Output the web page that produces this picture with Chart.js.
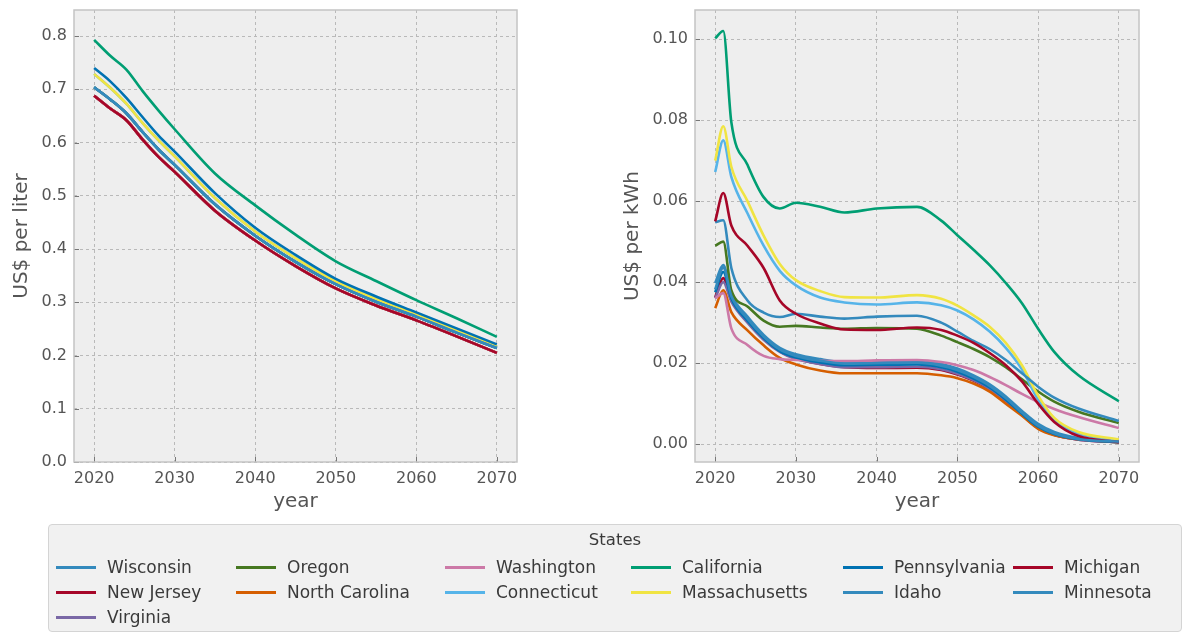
<!DOCTYPE html>
<html>
<head>
<meta charset="utf-8">
<script src="https://cdn.jsdelivr.net/npm/chart.js@4.4.1/dist/chart.umd.min.js"></script>
<style>
  body { margin: 0; background: #ffffff; width: 1185px; height: 641px; overflow: hidden; font-family: "DejaVu Sans", sans-serif; }
  #fuelChart { position: absolute; left: 0; top: 0; }
  #powerChart { position: absolute; left: 600px; top: 0; }
  #legend { position: absolute; left: 48px; top: 524px; width: 1134px; height: 108px; box-sizing: border-box;
            border: 1px solid #d4d4d4; border-radius: 4px; background: #f1f1f1; color: #3a3a3a; }
  #legend .title { position: absolute; left: 0; right: 0; top: 5px; text-align: center; font-size: 16.5px; }
  #legend .item { position: absolute; height: 24px; display: flex; align-items: center; font-size: 17px; white-space: nowrap; }
  #legend .swatch { width: 40px; height: 3px; margin-right: 11px; }
</style>
</head>
<body>
<canvas id="fuelChart" width="540" height="525"></canvas>
<canvas id="powerChart" width="585" height="525"></canvas>
<div id="legend"><div class="title">States</div></div>
<script>
// ---- states and line colours ----
const states = ['Wisconsin', 'New Jersey', 'Virginia', 'Oregon', 'North Carolina', 'Washington',
  'Connecticut', 'California', 'Massachusetts', 'Pennsylvania', 'Idaho', 'Michigan', 'Minnesota'];
const colors = ['#348ABD', '#A60628', '#7A68A6', '#467821', '#D55E00', '#CC79A7',
  '#56B4E9', '#009E73', '#F0E442', '#0072B2', '#348ABD', '#A60628', '#348ABD'];

// ---- fuel cost, US$ per liter ----
const fuelYears = [2020, 2022, 2024, 2026, 2028, 2030, 2035, 2040, 2045, 2050, 2055, 2060, 2065, 2070];
const fuelWisconsin      = [0.704, 0.681, 0.655, 0.620, 0.587, 0.558, 0.484, 0.425, 0.376, 0.334, 0.301, 0.273, 0.243, 0.214];
const fuelNewJersey      = [0.688, 0.664, 0.642, 0.606, 0.573, 0.545, 0.472, 0.416, 0.368, 0.326, 0.294, 0.266, 0.236, 0.205];
const fuelVirginia       = [0.688, 0.664, 0.642, 0.606, 0.573, 0.545, 0.472, 0.416, 0.368, 0.326, 0.294, 0.266, 0.236, 0.205];
const fuelOregon         = [0.704, 0.681, 0.655, 0.620, 0.587, 0.558, 0.484, 0.425, 0.376, 0.334, 0.301, 0.273, 0.243, 0.214];
const fuelNorthCarolina  = [0.688, 0.664, 0.642, 0.606, 0.573, 0.545, 0.472, 0.416, 0.368, 0.326, 0.294, 0.266, 0.236, 0.205];
const fuelWashington     = [0.688, 0.664, 0.642, 0.606, 0.573, 0.545, 0.472, 0.416, 0.368, 0.326, 0.294, 0.266, 0.236, 0.205];
const fuelConnecticut    = [0.729, 0.703, 0.673, 0.637, 0.604, 0.574, 0.496, 0.433, 0.383, 0.339, 0.306, 0.277, 0.247, 0.217];
const fuelCalifornia     = [0.793, 0.763, 0.737, 0.697, 0.660, 0.625, 0.542, 0.482, 0.427, 0.377, 0.340, 0.304, 0.270, 0.235];
const fuelMassachusetts  = [0.729, 0.703, 0.673, 0.637, 0.604, 0.574, 0.496, 0.433, 0.383, 0.339, 0.306, 0.277, 0.247, 0.217];
const fuelPennsylvania   = [0.740, 0.715, 0.684, 0.648, 0.613, 0.583, 0.505, 0.440, 0.389, 0.344, 0.311, 0.281, 0.251, 0.221];
const fuelIdaho          = [0.704, 0.681, 0.655, 0.620, 0.587, 0.558, 0.484, 0.425, 0.376, 0.334, 0.301, 0.273, 0.243, 0.214];
const fuelMichigan       = [0.688, 0.664, 0.642, 0.606, 0.573, 0.545, 0.472, 0.416, 0.368, 0.326, 0.294, 0.266, 0.236, 0.205];
const fuelMinnesota      = [0.704, 0.681, 0.655, 0.620, 0.587, 0.558, 0.484, 0.425, 0.376, 0.334, 0.301, 0.273, 0.243, 0.214];

// ---- electricity cost, US$ per kWh ----
const powerYears = [2020, 2021, 2022, 2024, 2026, 2028, 2030, 2033, 2036, 2040, 2045, 2048, 2050, 2052, 2054, 2056, 2058, 2060, 2062, 2065, 2070];
const powerWisconsin     = [0.0398, 0.0442, 0.0370, 0.0315, 0.0270, 0.0238, 0.0222, 0.0210, 0.0203, 0.0204, 0.0205, 0.0198, 0.0187, 0.0170, 0.0148, 0.0118, 0.0082, 0.0050, 0.0030, 0.0015, 0.0007];
const powerNewJersey     = [0.0363, 0.0410, 0.0356, 0.0305, 0.0262, 0.0230, 0.0212, 0.0198, 0.0190, 0.0188, 0.0189, 0.0183, 0.0172, 0.0157, 0.0135, 0.0106, 0.0072, 0.0040, 0.0023, 0.0011, 0.0005];
const powerVirginia      = [0.0360, 0.0400, 0.0352, 0.0300, 0.0258, 0.0228, 0.0210, 0.0198, 0.0190, 0.0190, 0.0191, 0.0185, 0.0174, 0.0158, 0.0136, 0.0107, 0.0073, 0.0040, 0.0023, 0.0011, 0.0005];
const powerOregon        = [0.0490, 0.0500, 0.0380, 0.0340, 0.0305, 0.0290, 0.0292, 0.0288, 0.0285, 0.0287, 0.0285, 0.0268, 0.0252, 0.0235, 0.0215, 0.0190, 0.0160, 0.0130, 0.0105, 0.0080, 0.0052];
const powerNorthCarolina = [0.0336, 0.0380, 0.0326, 0.0281, 0.0244, 0.0213, 0.0197, 0.0182, 0.0175, 0.0175, 0.0175, 0.0170, 0.0163, 0.0150, 0.0130, 0.0100, 0.0070, 0.0038, 0.0022, 0.0012, 0.0005];
const powerWashington    = [0.0360, 0.0373, 0.0286, 0.0245, 0.0218, 0.0210, 0.0208, 0.0206, 0.0205, 0.0207, 0.0208, 0.0203, 0.0195, 0.0183, 0.0166, 0.0146, 0.0124, 0.0104, 0.0087, 0.0067, 0.0040];
const powerConnecticut   = [0.0672, 0.0750, 0.0660, 0.0570, 0.0490, 0.0428, 0.0392, 0.0362, 0.0350, 0.0345, 0.0350, 0.0343, 0.0330, 0.0308, 0.0278, 0.0238, 0.0185, 0.0110, 0.0058, 0.0026, 0.0010];
const powerCalifornia    = [0.1002, 0.1020, 0.0795, 0.0690, 0.0610, 0.0582, 0.0596, 0.0586, 0.0572, 0.0582, 0.0586, 0.0552, 0.0516, 0.0480, 0.0442, 0.0398, 0.0348, 0.0285, 0.0228, 0.0170, 0.0106];
const powerMassachusetts = [0.0700, 0.0785, 0.0685, 0.0600, 0.0515, 0.0445, 0.0405, 0.0378, 0.0363, 0.0362, 0.0368, 0.0359, 0.0342, 0.0318, 0.0290, 0.0250, 0.0195, 0.0120, 0.0065, 0.0030, 0.0012];
const powerPennsylvania  = [0.0375, 0.0425, 0.0360, 0.0305, 0.0262, 0.0230, 0.0214, 0.0202, 0.0195, 0.0196, 0.0197, 0.0190, 0.0179, 0.0162, 0.0140, 0.0110, 0.0075, 0.0043, 0.0025, 0.0012, 0.0005];
const powerIdaho         = [0.0548, 0.0553, 0.0435, 0.0355, 0.0325, 0.0314, 0.0322, 0.0315, 0.0310, 0.0315, 0.0317, 0.0300, 0.0278, 0.0255, 0.0235, 0.0208, 0.0175, 0.0142, 0.0115, 0.0088, 0.0057];
const powerMichigan      = [0.0550, 0.0620, 0.0540, 0.0490, 0.0435, 0.0355, 0.0322, 0.0298, 0.0283, 0.0282, 0.0288, 0.0282, 0.0268, 0.0250, 0.0225, 0.0195, 0.0155, 0.0100, 0.0055, 0.0020, 0.0005];
const powerMinnesota     = [0.0382, 0.0436, 0.0366, 0.0310, 0.0266, 0.0234, 0.0218, 0.0206, 0.0199, 0.0200, 0.0201, 0.0194, 0.0183, 0.0166, 0.0144, 0.0114, 0.0078, 0.0046, 0.0027, 0.0013, 0.0006];

// ---- tick labels ----
const yearTicks = [2020, 2030, 2040, 2050, 2060, 2070];
const fuelTicks = [0.0, 0.1, 0.2, 0.3, 0.4, 0.5, 0.6, 0.7, 0.8];
const powerTicks = [0.00, 0.02, 0.04, 0.06, 0.08, 0.10];

const fuelSeries = [fuelWisconsin, fuelNewJersey, fuelVirginia, fuelOregon, fuelNorthCarolina, fuelWashington,
  fuelConnecticut, fuelCalifornia, fuelMassachusetts, fuelPennsylvania, fuelIdaho, fuelMichigan, fuelMinnesota];
const powerSeries = [powerWisconsin, powerNewJersey, powerVirginia, powerOregon, powerNorthCarolina, powerWashington,
  powerConnecticut, powerCalifornia, powerMassachusetts, powerPennsylvania, powerIdaho, powerMichigan, powerMinnesota];

const FONT = '"DejaVu Sans", sans-serif';
const TEXT = '#555555';

// axes background, frame and inward tick marks
const framePlugin = {
  id: 'frame',
  beforeDraw(chart) {
    const a = chart.chartArea, ctx = chart.ctx;
    ctx.save();
    ctx.fillStyle = '#eeeeee';
    ctx.fillRect(a.left, a.top, a.right - a.left, a.bottom - a.top);
    ctx.restore();
  },
  afterDraw(chart) {
    const a = chart.chartArea, ctx = chart.ctx;
    ctx.save();
    ctx.strokeStyle = '#777777';
    ctx.lineWidth = 1;
    ctx.beginPath();
    chart.scales.x.ticks.forEach(t => {
      const px = Math.round(chart.scales.x.getPixelForValue(t.value)) + 0.5;
      ctx.moveTo(px, a.bottom); ctx.lineTo(px, a.bottom - 5);
    });
    chart.scales.y.ticks.forEach(t => {
      const py = Math.round(chart.scales.y.getPixelForValue(t.value)) + 0.5;
      ctx.moveTo(a.left, py); ctx.lineTo(a.left + 5, py);
    });
    ctx.stroke();
    ctx.strokeStyle = '#c4c4c4';
    ctx.lineWidth = 1.5;
    ctx.strokeRect(a.left, a.top, a.right - a.left, a.bottom - a.top);
    ctx.restore();
  }
};

function buildChart(id, xs, series, yCfg) {
  const n = states.length;
  return new Chart(document.getElementById(id), {
    type: 'line',
    data: {
      datasets: states.map((s, i) => ({
        label: s,
        data: xs.map((x, j) => ({ x: x, y: series[i][j] })),
        borderColor: colors[i],
        backgroundColor: colors[i],
        borderWidth: 2.6,
        pointRadius: 0,
        fill: false,
        cubicInterpolationMode: 'monotone',
        order: n - i
      }))
    },
    options: {
      responsive: false,
      animation: false,
      devicePixelRatio: 1,
      layout: { padding: { top: 10, right: yCfg.padRight, left: 0, bottom: 0 } },
      plugins: { legend: { display: false }, tooltip: { enabled: false } },
      scales: {
        x: {
          type: 'linear', min: 2017.5, max: 2072.5,
          afterBuildTicks: s => { s.ticks = yearTicks.map(v => ({ value: v })); },
          afterFit: s => { s.height = 63; s.paddingLeft = 0; s.paddingRight = 0; },
          grid: { color: '#b9b9b9', lineWidth: 1, drawTicks: false },
          border: { display: false, dash: [3, 3] },
          ticks: { autoSkip: false, maxRotation: 0, padding: 7, color: TEXT, font: { family: FONT, size: 16 },
                   callback: v => String(v) },
          title: { display: true, text: 'year', color: TEXT, font: { family: FONT, size: 20 }, padding: { top: 0, bottom: 11 } }
        },
        y: {
          type: 'linear', min: yCfg.min, max: yCfg.max,
          afterBuildTicks: s => { s.ticks = yCfg.ticks.map(v => ({ value: v })); },
          afterFit: s => { s.width = yCfg.width; s.paddingTop = 0; s.paddingBottom = 0; },
          grid: { color: '#b9b9b9', lineWidth: 1, drawTicks: false },
          border: { display: false, dash: [3, 3] },
          ticks: { autoSkip: false, padding: 7, color: TEXT, font: { family: FONT, size: 16 },
                   callback: v => Number(v).toFixed(yCfg.digits) },
          title: { display: true, text: yCfg.title, color: TEXT, font: { family: FONT, size: 20 }, padding: { top: yCfg.titlePad, bottom: 0 } }
        }
      }
    },
    plugins: [framePlugin]
  });
}

buildChart('fuelChart', fuelYears, fuelSeries,
  { min: 0, max: 0.849, ticks: fuelTicks, digits: 1, width: 74, padRight: 23, title: 'US$ per liter', titlePad: 10 });
buildChart('powerChart', powerYears, powerSeries,
  { min: -0.0044, max: 0.1072, ticks: powerTicks, digits: 2, width: 95, padRight: 46, title: 'US$ per kWh', titlePad: 21 });

// legend: six columns filled top to bottom
const legend = document.getElementById('legend');
const ncol = 6;
const nrowMax = Math.ceil(states.length / ncol);
const extra = states.length % ncol;
const colX = [58, 238, 447, 633, 845, 1015];
const rowY = [30, 55, 80];
let k = 0;
for (let c = 0; c < ncol; c++) {
  const rows = (extra === 0 || c < extra) ? nrowMax : nrowMax - 1;
  for (let r = 0; r < rows && k < states.length; r++, k++) {
    const item = document.createElement('div');
    item.className = 'item';
    item.style.left = (colX[c] - 51) + 'px';
    item.style.top = rowY[r] + 'px';
    const sw = document.createElement('span');
    sw.className = 'swatch';
    sw.style.background = colors[k];
    const tx = document.createElement('span');
    tx.textContent = states[k];
    item.appendChild(sw);
    item.appendChild(tx);
    legend.appendChild(item);
  }
}
</script>
</body>
</html>
